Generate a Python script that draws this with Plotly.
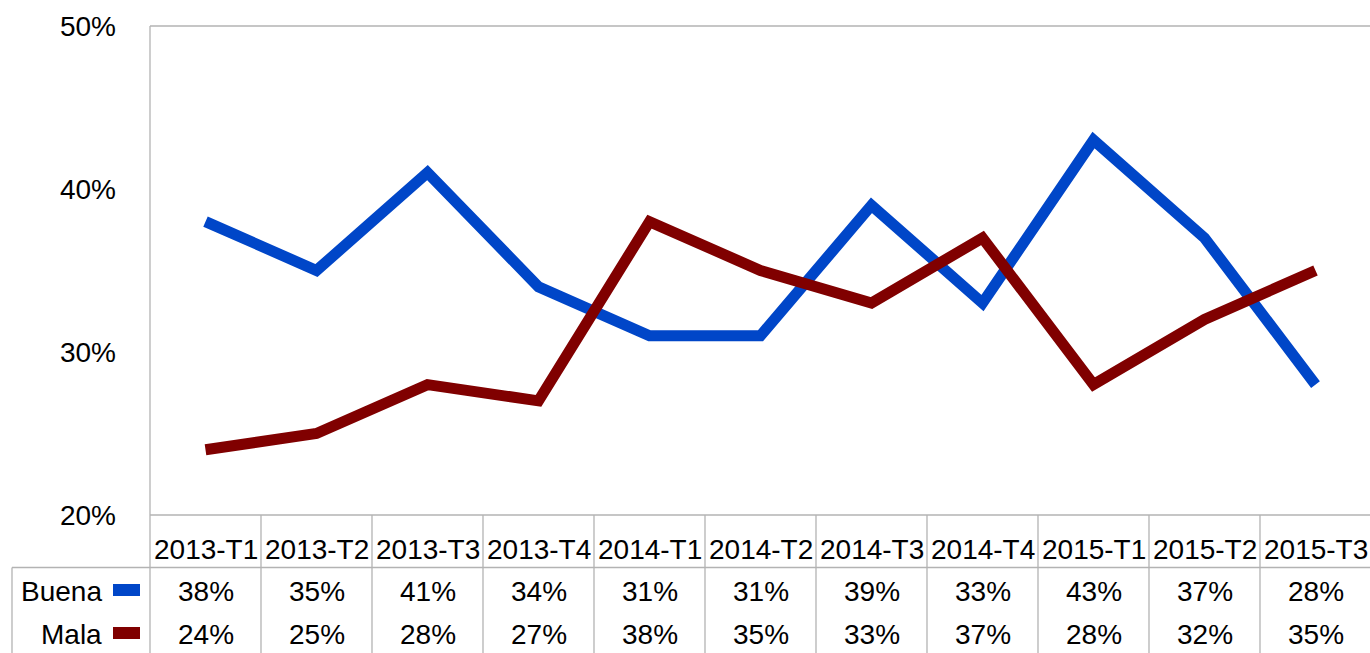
import plotly.graph_objects as go

categories = ["2013-T1", "2013-T2", "2013-T3", "2013-T4", "2014-T1", "2014-T2",
              "2014-T3", "2014-T4", "2015-T1", "2015-T2", "2015-T3"]
buena = [38, 35, 41, 34, 31, 31, 39, 33, 43, 37, 28]
mala = [24, 25, 28, 27, 38, 35, 33, 37, 28, 32, 35]
series_names = ["Buena", "Mala"]
series_colors = ["#0046c8", "#800000"]
y_ticks = [0.2, 0.3, 0.4, 0.5]

W, H = 1400, 653
L, R, T, B = 150, 0, 26, 138
PH = H - T - B
PW = W - L - R
CAT_W = 111.0
X_MAX = -0.5 + PW / CAT_W
FONT = "Liberation Sans, Arial, sans-serif"
FS = 28
GRID = "#b3b3b3"


def py(p):
    return (H - B - p) / PH


def px(p):
    return (p - L) / PW


fig = go.Figure()
xs = list(range(len(categories)))
for name, vals, col in zip(series_names, [buena, mala], series_colors):
    fig.add_trace(go.Scatter(x=xs, y=[v / 100 for v in vals], mode="lines", name=name,
                             line=dict(color=col, width=11), showlegend=False))

shapes = []
annotations = []
# plot frame: top and bottom lines, left line
for yy in (0, 1):
    shapes.append(dict(type="line", xref="paper", yref="paper", x0=0, x1=1, y0=yy, y1=yy,
                       line=dict(color=GRID, width=1.3), layer="below"))
shapes.append(dict(type="line", xref="paper", yref="paper", x0=0, x1=0, y0=1, y1=py(H + 5),
                   line=dict(color=GRID, width=1.3), layer="below"))
for i in range(1, len(categories)):
    shapes.append(dict(type="line", xref="x", yref="paper", x0=i - 0.5, x1=i - 0.5,
                       y0=0, y1=py(H + 5), line=dict(color=GRID, width=1.3)))
shapes.append(dict(type="line", xref="paper", yref="paper", x0=px(12), x1=1.0,
                   y0=py(567.5), y1=py(567.5), line=dict(color=GRID, width=1.3)))
shapes.append(dict(type="line", xref="paper", yref="paper", x0=px(12), x1=px(12),
                   y0=py(567.5), y1=py(H + 5), line=dict(color=GRID, width=1.3)))

for i, c in enumerate(categories):
    annotations.append(dict(x=i, y=py(549), xref="x", yref="paper", text=c, showarrow=False,
                            xanchor="center", yanchor="middle", font=dict(size=FS, color="black", family=FONT)))
row_y = [591, 634]
key_y = [(584, 596), (627, 639)]
for (name, vals, col, ry, (k0, k1)) in zip(series_names, [buena, mala], series_colors, row_y, key_y):
    for i, v in enumerate(vals):
        annotations.append(dict(x=i, y=py(ry), xref="x", yref="paper", text=f"{v}%", showarrow=False,
                                xanchor="center", yanchor="middle", font=dict(size=FS, color="black", family=FONT)))
    annotations.append(dict(x=px(104), y=py(ry), xref="paper", yref="paper", text=name, showarrow=False,
                            xanchor="right", yanchor="middle", font=dict(size=FS, color="black", family=FONT)))
    shapes.append(dict(type="rect", xref="paper", yref="paper", x0=px(113), x1=px(140),
                       y0=py(k1), y1=py(k0), fillcolor=col, line=dict(width=0)))

fig.update_layout(
    width=W, height=H,
    margin=dict(l=L, r=R, t=T, b=B, pad=0),
    paper_bgcolor="white", plot_bgcolor="white",
    shapes=shapes, annotations=annotations,
    xaxis=dict(range=[-0.5, X_MAX], showticklabels=False, showgrid=False,
               zeroline=False, showline=False, ticks=""),
    yaxis=dict(range=[0.2, 0.5], tickvals=y_ticks, tickformat=".0%", showgrid=False, zeroline=False,
               showline=False, ticks="", ticklabelstandoff=33,
               tickfont=dict(size=FS, color="black", family=FONT)),
    showlegend=False,
)
fig.write_html("out.html", config={"displayModeBar": False},
               post_script="document.body.style.margin='0';document.body.style.overflow='hidden';"
                           "document.documentElement.style.overflow='hidden';")
